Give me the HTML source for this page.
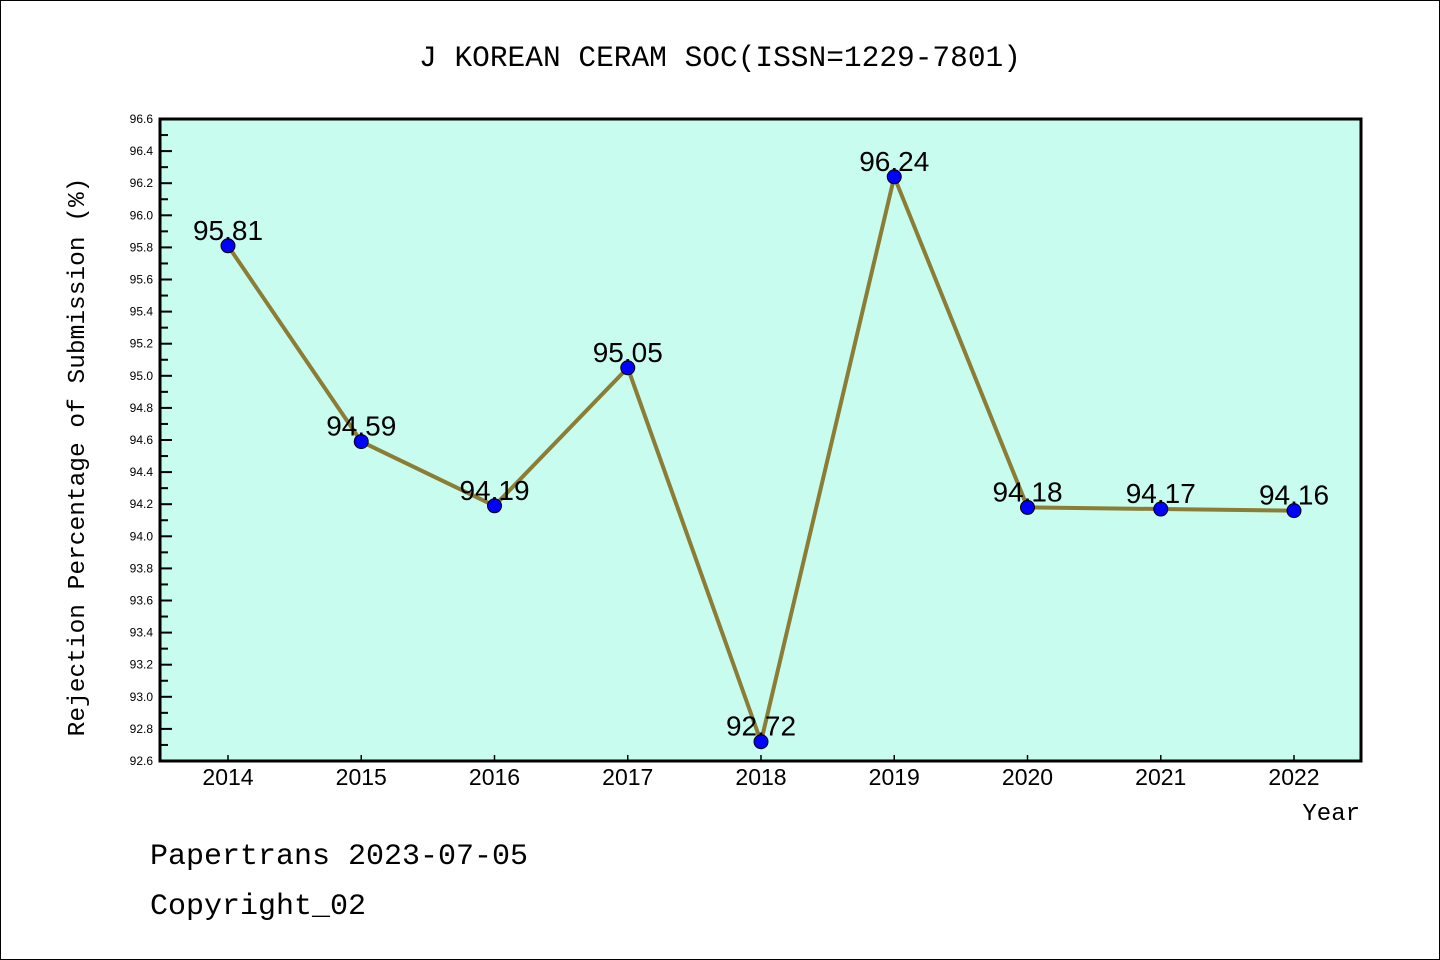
<!DOCTYPE html>
<html><head><meta charset="utf-8"><style>
body{margin:0;background:#fff;}
svg{display:block;font-family:"Liberation Mono","DejaVu Sans Mono",monospace;}
</style></head><body>
<svg id="chart" width="1440" height="960">
<rect x="0.5" y="0.5" width="1439" height="959" fill="#fff" stroke="#000"/>
<text x="720" y="66" font-size="29.5" text-anchor="middle">J KOREAN CERAM SOC(ISSN=1229-7801)</text>
<rect x="160" y="119" width="1201" height="642" fill="#c8fcee"/>
<g id="axes"></g>
<g id="series"></g>
<rect x="160" y="119" width="1201" height="642" fill="none" stroke="#000" stroke-width="3"/>
<text transform="translate(84,457) rotate(-90)" font-size="24.5" text-anchor="middle">Rejection Percentage of Submission (%)</text>
<text x="1360" y="820" font-size="24" text-anchor="end">Year</text>
<text x="150" y="864" font-size="30">Papertrans 2023-07-05</text>
<text x="150" y="914" font-size="30">Copyright_02</text>
</svg>
<script>
const years=[2014,2015,2016,2017,2018,2019,2020,2021,2022];
const values=[95.81,94.59,94.19,95.05,92.72,96.24,94.18,94.17,94.16];
const yTicks=[92.6,92.8,93.0,93.2,93.4,93.6,93.8,94.0,94.2,94.4,94.6,94.8,95.0,95.2,95.4,95.6,95.8,96.0,96.2,96.4,96.6];
const NS="http://www.w3.org/2000/svg";
const yMin=92.6,yMax=96.6,top_=119,bot=761;
const y=v=>bot-(v-yMin)/(yMax-yMin)*(bot-top_);
const x=i=>228+i*(1294-228)/(years.length-1);
function mk(t,a,p){const e=document.createElementNS(NS,t);for(const k in a)e.setAttribute(k,a[k]);p.appendChild(e);return e;}
const ax=document.getElementById('axes'),se=document.getElementById('series');
yTicks.forEach((v,i)=>{
 const t=mk('line',{x1:160,x2:172,y1:y(v),y2:y(v),stroke:'#000','stroke-width':2},ax);
 
 
 const l=mk('text',{x:153,y:y(v)+4,'font-size':12,'text-anchor':'end','font-family':'Liberation Sans, sans-serif'},ax);
 l.textContent=v.toFixed(1);
 
 
 if(i<yTicks.length-1){const m=mk('line',{x1:160,x2:168,y1:y(v+0.1),y2:y(v+0.1),stroke:'#000','stroke-width':2},ax);
 
 }
});
years.forEach((yr,i)=>{
 const t=mk('line',{x1:x(i),x2:x(i),y1:bot,y2:bot-6,stroke:'#000','stroke-width':1.5},ax);
 
 
 const l=mk('text',{x:x(i),y:785,'font-size':23,'text-anchor':'middle','font-family':'Liberation Sans, sans-serif'},ax);
 l.textContent=yr;
 
 
});
const pl=mk('polyline',{points:values.map((v,i)=>x(i)+','+y(v)).join(' '),fill:'none',stroke:'#8b7d35','stroke-width':4},se);


values.forEach((v,i)=>{
 const c=mk('circle',{cx:x(i),cy:y(v),r:7,fill:'#0000ff',stroke:'#000','stroke-width':1},se);
 
 
 const l=mk('text',{x:x(i),y:y(v)-6,'font-size':28,'text-anchor':'middle','font-family':'Liberation Sans, sans-serif'},se);
 l.textContent=v.toFixed(2);
 
 
});
</script>
</body></html>
